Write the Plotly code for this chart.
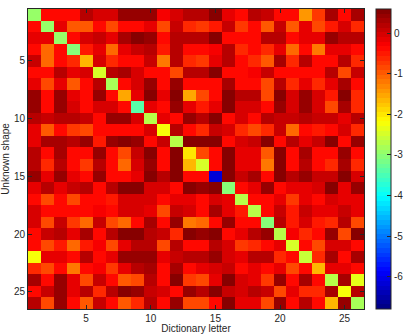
import plotly.graph_objects as go

letters = list(range(1, 27))
shapes = list(range(1, 27))

scores = [
    [-2.88, -0.33, -0.33, -0.42, 0.14, -0.05, -0.05, 0.42, 0.42, 0.42, -0.23, -0.05, 0.23, 0.14, 0.5, -0.14, -0.33, 0.23, 0.05, -0.33, -0.33, -1.45, -0.7, 0.32, -0.33, 0.32],
    [-0.33, -2.88, -0.14, -0.97, -0.97, -0.33, -0.88, -0.33, -0.33, -0.14, -0.88, 0.05, -0.6, -0.7, -0.51, 0.05, -0.7, -0.42, -0.97, 0.05, -0.97, -0.14, -0.79, -0.51, -0.05, -0.6],
    [-0.14, -0.14, -2.88, -0.33, -0.05, 0.05, -0.14, 0.32, 0.5, 0.42, -0.33, 0.23, 0.23, 0.14, 0.5, -0.33, -0.33, -0.33, 0.14, 0.14, -0.33, -0.14, -0.14, 0.42, 0.23, 0.23],
    [-0.33, -1.07, -0.33, -3.0, -0.51, -0.14, -1.07, -0.14, 0.05, 0.23, -0.45, 0.14, -0.33, -0.33, -0.23, 0.14, -0.6, -0.33, -0.6, -0.14, -1.07, -0.33, -1.25, -0.14, -0.14, -0.33],
    [0.05, -1.07, -0.33, -0.6, -1.7, -0.05, -0.6, -0.33, -0.33, 0.05, -1.16, 0.23, -0.6, -0.7, -0.14, 0.23, -0.33, -0.6, -0.97, 0.32, -0.6, 0.14, -0.33, -0.33, 0.14, -0.6],
    [-0.33, -0.33, 0.14, -0.14, -0.05, -2.42, 0.14, 0.32, -0.05, -0.33, -0.33, -0.79, 0.23, 0.14, 0.5, -0.33, -0.33, -0.23, 0.05, -0.33, -0.33, -0.33, -0.33, 0.14, -0.79, 0.05],
    [-0.14, -0.88, -0.14, -0.97, -0.33, 0.14, -2.82, -0.33, -0.05, 0.42, -0.33, 0.42, -0.33, -0.33, -0.33, 0.32, -0.33, -0.33, -0.79, 0.14, -0.6, -0.14, -0.6, -0.14, 0.32, -0.33],
    [0.42, -0.33, 0.42, -0.14, -0.33, 0.42, -0.33, -1.53, -0.14, 0.5, -0.14, 0.58, -1.53, -0.88, -0.33, 0.58, 0.14, 0.14, -0.88, 0.55, -0.05, 0.42, -0.05, -0.51, 0.5, -0.6],
    [0.42, -0.33, 0.42, -0.05, -0.33, -0.05, -0.05, -0.33, -3.4, -0.14, -0.33, 0.42, -0.14, -0.51, -0.14, 0.5, -0.05, -0.05, -0.33, 0.42, -0.05, 0.42, -0.05, -0.88, 0.32, -0.6],
    [0.23, 0.05, 0.23, 0.23, 0.05, -0.33, 0.42, 0.42, -0.05, -2.64, -0.14, -0.33, 0.42, 0.14, 0.58, -0.33, -0.05, -0.33, 0.14, 0.05, 0.05, 0.14, 0.05, 0.05, -0.14, 0.14],
    [-0.14, -0.97, -0.33, -0.7, -0.88, -0.33, -0.33, -0.33, -0.33, -0.05, -2.27, 0.14, -0.33, -0.6, 0.05, -0.05, -0.6, -0.88, -0.6, 0.05, -1.07, -0.33, -0.45, -0.33, -0.05, -0.6],
    [-0.14, 0.32, 0.32, 0.23, 0.42, -0.51, 0.42, 0.58, 0.42, -0.33, 0.05, -2.64, 0.58, 0.5, 0.58, -0.33, -0.05, 0.05, 0.55, -0.33, 0.14, -0.14, 0.05, 0.55, -0.33, 0.42],
    [0.23, -0.33, 0.3, -0.33, -0.33, 0.42, -0.33, -0.88, 0.05, 0.5, -0.33, 0.58, -1.95, -0.88, -0.33, 0.58, -0.14, -0.14, -0.97, 0.55, -0.33, 0.32, -0.33, -0.33, 0.42, -0.33],
    [0.14, -0.6, 0.14, -0.33, -0.7, 0.14, -0.33, -1.07, -0.05, 0.42, -0.33, 0.58, -1.62, -2.45, -0.33, 0.55, -0.14, -0.14, -1.25, 0.5, -0.33, 0.14, -0.33, -0.6, 0.32, -0.6],
    [0.42, -0.14, 0.42, -0.14, -0.33, 0.42, -0.33, -0.33, -0.14, 0.5, 0.14, 0.58, -0.33, -0.33, -6.2, 0.58, 0.05, 0.32, -0.33, 0.55, 0.14, 0.42, 0.05, 0.05, 0.55, -0.05],
    [-0.14, 0.14, -0.14, 0.05, 0.23, -0.33, 0.23, 0.58, 0.55, -0.05, -0.05, -0.33, 0.5, 0.42, 0.58, -3.0, -0.33, -0.14, 0.42, -0.33, -0.14, -0.14, -0.05, 0.55, -0.14, 0.42],
    [-0.33, -0.79, -0.33, -0.79, -0.33, -0.33, -0.51, -0.05, -0.05, -0.05, -0.33, -0.14, -0.14, -0.33, -0.05, -0.14, -2.73, -0.33, -0.33, -0.14, -0.7, -0.14, -0.33, -0.05, -0.14, -0.14],
    [-0.05, -0.33, -0.33, -0.33, -0.33, -0.23, -0.33, -0.05, -0.05, -0.14, -0.79, 0.05, -0.05, -0.33, 0.32, -0.14, -0.51, -2.64, -0.33, 0.05, -0.51, 0.05, -0.14, -0.14, 0.05, -0.14],
    [-0.05, -0.88, 0.05, -0.7, -1.07, 0.05, -0.88, -1.07, -0.33, 0.32, -0.33, 0.42, -1.16, -1.07, -0.33, 0.42, -0.33, -0.33, -3.1, 0.23, -0.51, -0.05, -0.51, -0.6, 0.14, -0.88],
    [-0.33, 0.05, 0.14, -0.14, 0.32, -0.33, 0.23, 0.55, 0.5, 0.14, 0.05, -0.6, 0.55, 0.42, 0.5, -0.33, -0.14, 0.14, 0.42, -2.73, -0.25, -0.6, -0.33, 0.42, -0.88, 0.5],
    [-0.33, -0.79, -0.51, -1.07, -0.51, -0.23, -0.79, -0.14, 0.14, 0.14, -0.79, 0.14, -0.33, -0.4, 0.14, -0.05, -0.7, -0.6, -0.33, -0.14, -2.45, -0.33, -0.79, -0.05, -0.05, -0.33],
    [-2.25, -0.14, -0.14, -0.33, 0.14, -0.33, -0.14, 0.42, 0.42, 0.42, -0.14, 0.05, 0.23, 0.23, 0.42, -0.05, -0.14, 0.14, 0.14, -0.6, -0.33, -2.55, -0.6, 0.32, -0.33, 0.32],
    [-0.6, -0.79, -0.33, -1.25, -0.33, -0.23, -0.7, -0.14, 0.14, 0.32, -0.33, 0.32, -0.33, -0.14, -0.05, 0.05, -0.33, -0.14, -0.33, -0.14, -0.88, -0.33, -1.62, -0.14, -0.14, -0.33],
    [0.32, -0.33, 0.42, -0.14, -0.88, 0.05, -0.33, -0.97, -0.79, 0.14, -0.33, 0.55, -0.7, -0.88, -0.14, 0.5, -0.05, -0.14, -0.7, 0.42, -0.33, 0.32, -0.33, -2.64, 0.32, -2.36],
    [-0.33, 0.05, 0.42, -0.14, 0.14, -0.6, 0.14, 0.55, 0.42, 0.05, -0.05, -0.33, 0.42, 0.23, 0.5, 0.05, -0.05, 0.14, 0.05, -0.79, -0.14, -0.6, -0.6, 0.32, -2.2, 0.14],
    [0.14, -0.79, 0.42, -0.33, -0.97, 0.05, -0.33, -0.97, -0.6, 0.14, -0.33, 0.42, -0.79, -0.88, -0.33, 0.5, -0.14, -0.14, -0.88, 0.42, -0.33, 0.14, -0.33, -1.62, 0.42, -2.82],
]

axis_ticks = [5, 10, 15, 20, 25]
cbar_ticks = [0, -1, -2, -3, -4, -5, -6]
zmin, zmax = -6.8, 0.6


def jet(x):
    def c(v):
        return max(0.0, min(1.0, v))
    r = c(min(4 * x - 1.5, -4 * x + 4.5))
    g = c(min(4 * x - 0.5, -4 * x + 3.5))
    b = c(min(4 * x + 0.5, -4 * x + 2.5))
    return "rgb(%d,%d,%d)" % (round(r * 255), round(g * 255), round(b * 255))


n = 64
colorscale = []
for k in range(n):
    col = jet((k + 0.5) / n)
    colorscale.append([k / n, col])
    colorscale.append([(k + 1) / n, col])

font = dict(family="Liberation Sans, Arial, sans-serif", size=10, color="#262626")

fig = go.Figure(
    go.Heatmap(
        z=scores,
        x=letters,
        y=shapes,
        zmin=zmin,
        zmax=zmax,
        colorscale=colorscale,
        colorbar=dict(
            x=1.036,
            xanchor="left",
            xpad=0,
            y=0.5,
            yanchor="middle",
            len=1,
            lenmode="fraction",
            ypad=0,
            thickness=15,
            outlinecolor="#262626",
            outlinewidth=1,
            tickvals=cbar_ticks,
            ticktext=[str(v) for v in cbar_ticks],
            ticks="inside",
            ticklen=4,
            tickcolor="#262626",
            tickfont=font,
        ),
    )
)

fig.update_layout(
    width=409,
    height=334,
    margin=dict(l=28, r=45, t=9, b=25, autoexpand=False),
    paper_bgcolor="white",
    plot_bgcolor="white",
    font=font,
)
fig.update_xaxes(
    range=[0.5, 26.5],
    tickvals=axis_ticks,
    ticks="inside",
    ticklen=4,
    tickcolor="#262626",
    showline=True,
    linecolor="#262626",
    linewidth=1,
    mirror="allticks",
    showgrid=False,
    zeroline=False,
    automargin=False,
    tickfont=font,
    title=dict(text="Dictionary letter", font=font, standoff=0),
)
fig.update_yaxes(
    range=[26.5, 0.5],
    tickvals=axis_ticks,
    ticks="inside",
    ticklen=4,
    tickcolor="#262626",
    showline=True,
    linecolor="#262626",
    linewidth=1,
    mirror="allticks",
    showgrid=False,
    zeroline=False,
    automargin=False,
    tickfont=font,
    title=dict(text="Unknown shape", font=font, standoff=6),
)

fig.write_html(
    "out.html",
    config={"displayModeBar": False},
    post_script="document.body.style.margin='0px';document.body.style.padding='0px';",
)
